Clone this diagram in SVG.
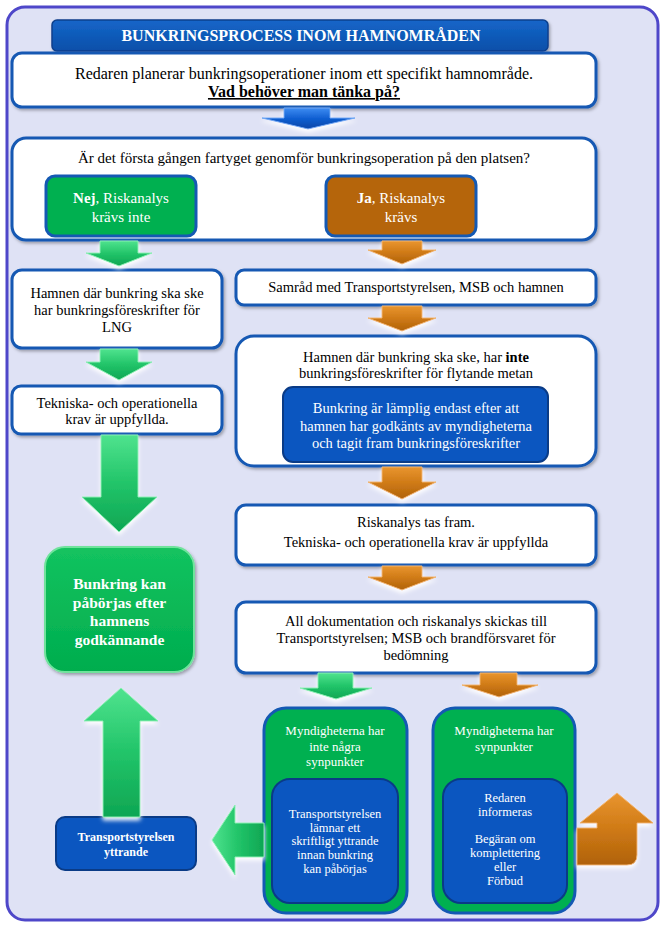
<svg xmlns="http://www.w3.org/2000/svg" width="665" height="926" viewBox="0 0 665 926">
<defs>
  <linearGradient id="gGreenV" x1="0" y1="0" x2="0" y2="1">
    <stop offset="0" stop-color="#4fe38e"/>
    <stop offset="0.5" stop-color="#22c469"/>
    <stop offset="1" stop-color="#0ea653"/>
  </linearGradient>
  <linearGradient id="gGreenH" x1="0" y1="0" x2="1" y2="0">
    <stop offset="0" stop-color="#4fe38e"/>
    <stop offset="0.5" stop-color="#22c469"/>
    <stop offset="1" stop-color="#0ea653"/>
  </linearGradient>
  <linearGradient id="gOrangeV" x1="0" y1="0" x2="0" y2="1">
    <stop offset="0" stop-color="#e9952f"/>
    <stop offset="0.5" stop-color="#cf7a16"/>
    <stop offset="1" stop-color="#b0620a"/>
  </linearGradient>
  <linearGradient id="gBlueV" x1="0" y1="0" x2="0" y2="1">
    <stop offset="0" stop-color="#3d8cf2"/>
    <stop offset="0.5" stop-color="#115fd2"/>
    <stop offset="1" stop-color="#0a45a6"/>
  </linearGradient>
  <linearGradient id="gTitle" x1="0" y1="0" x2="0" y2="1">
    <stop offset="0" stop-color="#1566c9"/>
    <stop offset="1" stop-color="#0a4fa9"/>
  </linearGradient>
  <linearGradient id="gGreenBox" x1="0" y1="0" x2="0" y2="1">
    <stop offset="0" stop-color="#13c35f"/>
    <stop offset="1" stop-color="#00ad4e"/>
  </linearGradient>
  <filter id="shadow" x="-10%" y="-10%" width="125%" height="130%">
    <feDropShadow dx="1.5" dy="2" stdDeviation="1.5" flood-color="#000" flood-opacity="0.3"/>
  </filter>
  <filter id="halo" x="-20%" y="-20%" width="140%" height="150%">
    <feDropShadow dx="0" dy="3" stdDeviation="2" flood-color="#ffffff" flood-opacity="0.95"/>
  </filter>
  <style>
    .frame{fill:#dfe2f5;stroke:#4e47c9;stroke-width:3}
    .wbox{fill:#ffffff;stroke:#1459b3;stroke-width:3}
    .gbox{fill:#00b050;stroke:#1459b3;stroke-width:3}
    .obox{fill:#b5650b;stroke:#1459b3;stroke-width:3}
    .bbox{fill:#0b56c0;stroke:#0a3b86;stroke-width:2}
    .t{font-size:14.5px;fill:#000;text-anchor:middle}
    .w{fill:#ffffff}
    .b{font-weight:bold}
    .s13{font-size:13px}
    .s12{font-size:12.5px}
    .ga{fill:url(#gGreenV);stroke:#8af0b4;stroke-width:1}
    .gah{fill:url(#gGreenH);stroke:#8af0b4;stroke-width:1}
    .oa{fill:url(#gOrangeV);stroke:#f2b36a;stroke-width:1}
    .ba{fill:url(#gBlueV);stroke:#6fa8f5;stroke-width:1}
  </style>
</defs>

<rect class="frame" x="7" y="7" width="651" height="913" rx="18"/>

<g font-family="Liberation Serif, Times New Roman, DejaVu Serif, serif">
<g id="title">
  <rect x="52" y="20" width="496" height="31" rx="5" fill="url(#gTitle)" stroke="#0b3f8c" stroke-width="1.5" filter="url(#shadow)"/>
  <text class="t w b" x="301" y="41" style="font-size:16px">BUNKRINGSPROCESS INOM HAMNOMRÅDEN</text>
</g>

<g id="start">
  <rect class="wbox" x="12" y="53" width="584" height="54" rx="10" filter="url(#shadow)"/>
  <text class="t" x="304" y="79" style="font-size:16px">Redaren planerar bunkringsoperationer inom ett specifikt hamnområde.</text>
  <text class="t b" x="304" y="97" style="font-size:16px" text-decoration="underline">Vad behöver man tänka på?</text>
</g>

<g id="decision">
  <rect class="wbox" x="12" y="138" width="584" height="102" rx="14" filter="url(#shadow)"/>
  <text class="t" x="304" y="163" style="font-size:15px">Är det första gången fartyget genomför bunkringsoperation på den platsen?</text>
</g>

<g id="nej">
  <rect class="gbox" x="46" y="176" width="150" height="60" rx="9"/>
  <text class="t w" x="121" y="203" style="font-size:15px"><tspan class="b">Nej</tspan>, Riskanalys</text>
  <text class="t w" x="121" y="222" style="font-size:15px">krävs inte</text>
</g>

<g id="ja">
  <rect class="obox" x="326" y="176" width="150" height="60" rx="9"/>
  <text class="t w" x="401" y="203" style="font-size:15px"><tspan class="b">Ja</tspan>, Riskanalys</text>
  <text class="t w" x="401" y="222" style="font-size:15px">krävs</text>
</g>

<g id="lng">
  <rect class="wbox" x="12" y="270" width="210" height="78" rx="10" filter="url(#shadow)"/>
  <text class="t" x="117" y="298">Hamnen där bunkring ska ske</text>
  <text class="t" x="117" y="315">har bunkringsföreskrifter för</text>
  <text class="t" x="117" y="332">LNG</text>
</g>

<g id="samrad">
  <rect class="wbox" x="236" y="270" width="360" height="35" rx="8" filter="url(#shadow)"/>
  <text class="t" x="416" y="292">Samråd med Transportstyrelsen, MSB och hamnen</text>
</g>

<g id="krav-left">
  <rect class="wbox" x="12" y="386" width="210" height="48" rx="9" filter="url(#shadow)"/>
  <text class="t" x="117" y="408">Tekniska- och operationella</text>
  <text class="t" x="117" y="424">krav är uppfyllda.</text>
</g>

<g id="inte-foreskrifter">
  <rect class="wbox" x="236" y="336" width="360" height="130" rx="18" filter="url(#shadow)"/>
  <text class="t" x="416" y="362">Hamnen där bunkring ska ske, har <tspan class="b">inte</tspan></text>
  <text class="t" x="416" y="378">bunkringsföreskrifter för flytande metan</text>
  <rect class="bbox" x="283" y="387" width="265" height="75" rx="10"/>
  <text class="t w" x="416" y="413">Bunkring är lämplig endast efter att</text>
  <text class="t w" x="416" y="431">hamnen har godkänts av myndigheterna</text>
  <text class="t w" x="416" y="448">och tagit fram bunkringsföreskrifter</text>
</g>

<g id="riskanalys">
  <rect class="wbox" x="236" y="505" width="360" height="60" rx="10" filter="url(#shadow)"/>
  <text class="t" x="416" y="527">Riskanalys tas fram.</text>
  <text class="t" x="416" y="547">Tekniska- och operationella krav är uppfyllda</text>
</g>

<g id="dokumentation">
  <rect class="wbox" x="236" y="602" width="360" height="71" rx="10" filter="url(#shadow)"/>
  <text class="t" x="416" y="626">All dokumentation och riskanalys skickas till</text>
  <text class="t" x="416" y="643">Transportstyrelsen; MSB och brandförsvaret för</text>
  <text class="t" x="416" y="660">bedömning</text>
</g>

<g id="bunkring-kan">
  <rect x="45" y="547" width="149" height="125" rx="20" fill="url(#gGreenBox)" stroke="#6fe39c" stroke-width="2" filter="url(#shadow)"/>
  <text class="t w b" x="119.5" y="589" style="font-size:15.5px">Bunkring kan</text>
  <text class="t w b" x="119.5" y="608" style="font-size:15.5px">påbörjas efter</text>
  <text class="t w b" x="119.5" y="626" style="font-size:15.5px">hamnens</text>
  <text class="t w b" x="119.5" y="645" style="font-size:15.5px">godkännande</text>
</g>

<g id="inga-synpunkter">
  <rect class="gbox" x="264" y="708" width="143" height="205" rx="22"/>
  <text class="t w s13" x="335" y="735">Myndigheterna har</text>
  <text class="t w s13" x="335" y="751">inte några</text>
  <text class="t w s13" x="335" y="766">synpunkter</text>
  <rect class="bbox" x="272" y="779" width="126" height="124" rx="18"/>
  <text class="t w s12" x="335" y="818">Transportstyrelsen</text>
  <text class="t w s12" x="335" y="832">lämnar ett</text>
  <text class="t w s12" x="335" y="845">skriftligt yttrande</text>
  <text class="t w s12" x="335" y="859">innan bunkring</text>
  <text class="t w s12" x="335" y="873">kan påbörjas</text>
</g>

<g id="synpunkter">
  <rect class="gbox" x="433" y="708" width="142" height="205" rx="22"/>
  <text class="t w s13" x="504" y="735">Myndigheterna har</text>
  <text class="t w s13" x="504" y="751">synpunkter</text>
  <rect class="bbox" x="443" y="779" width="124" height="124" rx="18"/>
  <text class="t w s12" x="505" y="802">Redaren</text>
  <text class="t w s12" x="505" y="816">informeras</text>
  <text class="t w s12" x="505" y="843">Begäran om</text>
  <text class="t w s12" x="505" y="857">komplettering</text>
  <text class="t w s12" x="505" y="871">eller</text>
  <text class="t w s12" x="505" y="885">Förbud</text>
</g>

<g id="yttrande">
  <rect x="56" y="817" width="140" height="53" rx="9" fill="#0b56c0" stroke="#0a3b86" stroke-width="2"/>
  <text class="t w b" x="126" y="841" style="font-size:12px">Transportstyrelsen</text>
  <text class="t w b" x="126" y="856" style="font-size:12px">yttrande</text>
</g>
</g>

<g id="connectors">
  <polygon class="ba" filter="url(#halo)" points="284,108 330,108 330,118 355,118 308,129 262,118 284,118"/>
  <polygon class="ga" filter="url(#halo)" points="100,241 138,241 138,253 152,253 119,266 86,253 100,253"/>
  <polygon class="oa" filter="url(#halo)" points="382,241 422,241 422,250 436,250 402,264 368,250 382,250"/>
  <polygon class="oa" filter="url(#halo)" points="382,306 422,306 422,318 436,318 402,331 368,318 382,318"/>
  <polygon class="ga" filter="url(#halo)" points="100,349 138,349 138,362 152,362 119,380 86,362 100,362"/>
  <polygon class="oa" filter="url(#halo)" points="382,467 422,467 422,482 436,482 402,499 368,482 382,482"/>
  <polygon class="ga" filter="url(#halo)" points="101,435 138,435 138,497 157,497 119,532 82,497 101,497"/>
  <polygon class="oa" filter="url(#halo)" points="382,566 422,566 422,577 436,577 402,590 368,577 382,577"/>
  <polygon class="ga" filter="url(#halo)" points="318,673 353,673 353,688 372,688 336,699 300,688 318,688"/>
  <polygon class="oa" filter="url(#halo)" points="480,673 517,673 517,685 538,685 499,697 462,685 480,685"/>
  <polygon class="ga" filter="url(#halo)" points="103,817 140,817 140,721 158,721 121,688 84,721 103,721"/>
  <polygon class="gah" filter="url(#halo)" points="264,823 264,857 235,857 235,875 212,840 235,805 235,823"/>
  <path class="oa" filter="url(#halo)" d="M577,828 L597,828 L597,823 L580,823 L617,793 L653,823 L637,823 L637,855 Q637,865 627,865 L577,865 Z"/>
</g>
</svg>
